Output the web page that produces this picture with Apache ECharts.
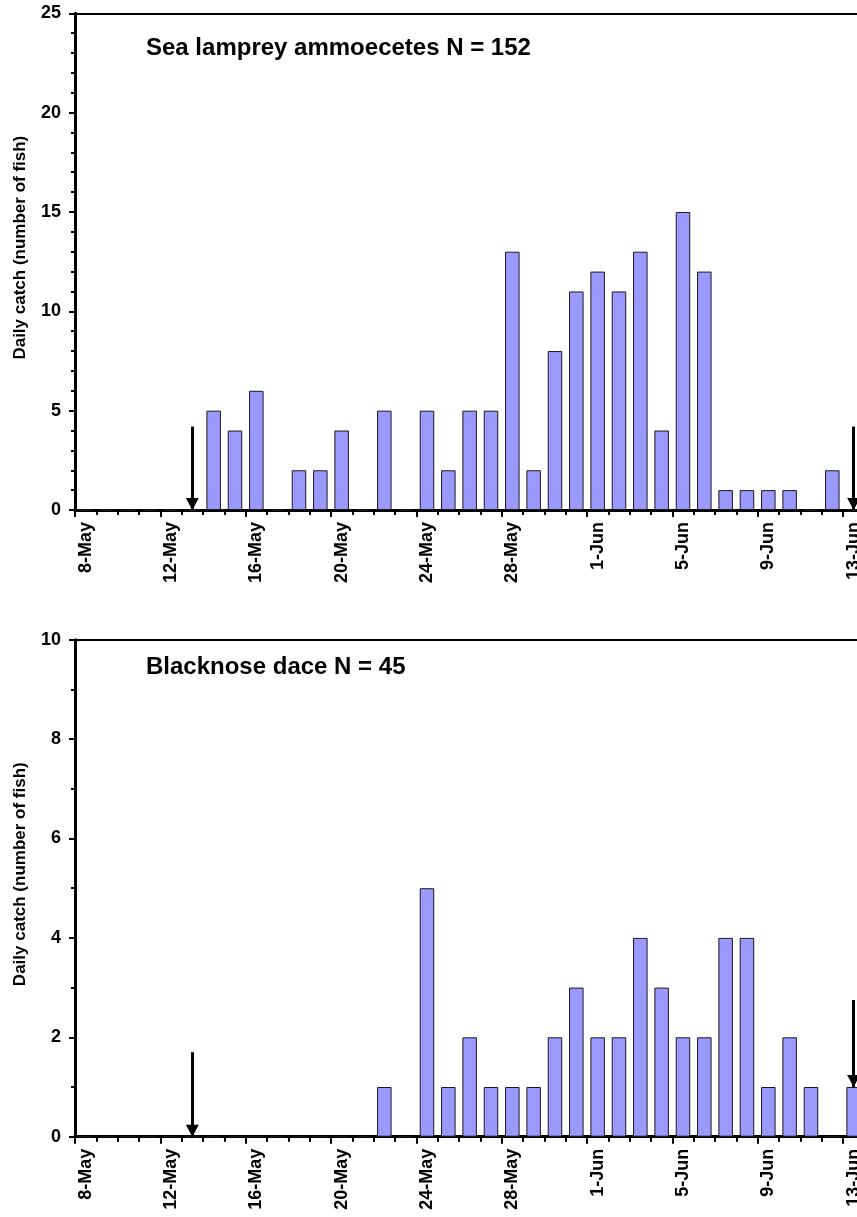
<!DOCTYPE html>
<html>
<head>
<meta charset="utf-8">
<script src="https://cdn.jsdelivr.net/npm/echarts@6/dist/echarts.min.js"></script>
<style>
  html, body { margin: 0; padding: 0; background: #ffffff; }
  #chart { width: 857px; height: 1217px; }
</style>
</head>
<body>
<div id="chart"></div>
<script>
// Sampling days, one bar per day
const days = [
  '8-May', '9-May', '10-May', '11-May', '12-May', '13-May', '14-May', '15-May',
  '16-May', '17-May', '18-May', '19-May', '20-May', '21-May', '22-May', '23-May',
  '24-May', '25-May', '26-May', '27-May', '28-May', '29-May', '30-May', '31-May',
  '1-Jun', '2-Jun', '3-Jun', '4-Jun', '5-Jun', '6-Jun', '7-Jun', '8-Jun',
  '9-Jun', '10-Jun', '11-Jun', '12-Jun', '13-Jun'
];

// Daily catch, sea lamprey ammocoetes (total 152)
const lampreyCatch = [
  0, 0, 0, 0, 0, 0, 5, 4,
  6, 0, 2, 2, 4, 0, 5, 0,
  5, 2, 5, 5, 13, 2, 8, 11,
  12, 11, 13, 4, 15, 12, 1, 1,
  1, 1, 0, 2, 0
];

// Daily catch, blacknose dace (total 45)
const daceCatch = [
  0, 0, 0, 0, 0, 0, 0, 0,
  0, 0, 0, 0, 0, 0, 1, 0,
  5, 1, 2, 1, 1, 1, 2, 3,
  2, 2, 4, 3, 2, 2, 4, 4,
  1, 2, 1, 0, 1
];

// Y-axis tick labels for each panel
const lampreyTicks = [0, 5, 10, 15, 20, 25];
const daceTicks = [0, 2, 4, 6, 8, 10];

// Arrows marking the start and end of trapping
const lampreyArrows = [
  { day: '13-May', from: 4.2, to: 0 },
  { day: '13-Jun', from: 4.2, to: 0 }
];
const daceArrows = [
  { day: '13-May', from: 1.7, to: 0 },
  { day: '13-Jun', from: 2.75, to: 1 }
];

const panelTitles = ['Sea lamprey ammoecetes N = 152', 'Blacknose dace N = 45'];
const yTitle = 'Daily catch (number of fish)';

const FONT = "'Liberation Sans', Arial, Helvetica, sans-serif";
// the plot runs a few pixels past the right edge of the page
const grids = [
  { left: 75, top: 13.3, width: 789.3, height: 496.7, outerBoundsMode: 'none', containLabel: false },
  { left: 75, top: 639.7, width: 789.3, height: 497, outerBoundsMode: 'none', containLabel: false }
];

function xAxesFor(gi) {
  return [
    // labelled axis with longer ticks every fourth day
    {
      type: 'category', gridIndex: gi, position: 'bottom', data: days,
      boundaryGap: true,
      axisLine: { show: true, lineStyle: { color: '#000', width: 3 } },
      axisTick: { show: true, interval: 3, length: 7, lineStyle: { color: '#000', width: 2 } },
      axisLabel: {
        show: true, interval: 3, rotate: 90, margin: 12,
        fontFamily: FONT, fontSize: 18, fontWeight: 'bold', color: '#000'
      },
      splitLine: { show: false }
    },
    // short ticks at every day boundary
    {
      type: 'category', gridIndex: gi, position: 'bottom', data: days,
      boundaryGap: true,
      axisLine: { show: false },
      axisTick: { show: true, interval: 0, length: 5, lineStyle: { color: '#000', width: 2 } },
      axisLabel: { show: false },
      splitLine: { show: false }
    },
    // frame line along the top of the plot
    {
      type: 'category', gridIndex: gi, position: 'top', data: days,
      axisLine: { show: true, lineStyle: { color: '#000', width: 2 } },
      axisTick: { show: false }, axisLabel: { show: false }, splitLine: { show: false }
    }
  ];
}

function yAxisFor(gi, ticks) {
  const step = ticks[1] - ticks[0];
  return {
    type: 'value', gridIndex: gi,
    min: ticks[0], max: ticks[ticks.length - 1], interval: step,
    name: yTitle, nameLocation: 'middle', nameGap: 46,
    nameTextStyle: {
      fontFamily: FONT, fontSize: 17, fontWeight: 'bold', color: '#000',
      padding: [0, 0, 0, 28]
    },
    axisLine: { show: true, lineStyle: { color: '#000', width: 3 } },
    axisTick: { show: true, length: 6, lineStyle: { color: '#000', width: 2 } },
    minorTick: { show: true, splitNumber: step, length: 4, lineStyle: { color: '#000', width: 2 } },
    axisLabel: {
      margin: 14, fontFamily: FONT, fontSize: 18, fontWeight: 'bold', color: '#000'
    },
    splitLine: { show: false },
    minorSplitLine: { show: false }
  };
}

function barSeries(gi, values, arrows) {
  return {
    type: 'bar',
    xAxisIndex: gi * 3, yAxisIndex: gi,
    data: values,
    barWidth: '68%',
    itemStyle: { color: '#9999ff', borderColor: '#1a1a1a', borderWidth: 1 },
    emphasis: { disabled: true },
    silent: true,
    markLine: {
      silent: true,
      animation: false,
      symbol: ['none', 'triangle'],
      symbolSize: [13, 12],
      symbolOffset: [[0, 0], [0, 6]],
      lineStyle: { color: '#000', width: 3, type: 'solid' },
      itemStyle: { color: '#000' },
      label: { show: false },
      emphasis: { disabled: true },
      data: arrows.map(a => [
        { coord: [a.day, a.from] },
        { coord: [a.day, a.to] }
      ])
    }
  };
}

const chart = echarts.init(document.getElementById('chart'), null, { renderer: 'canvas' });
chart.setOption({
  backgroundColor: '#ffffff',
  animation: false,
  title: [
    {
      text: panelTitles[0], left: 146, top: 36, padding: 0,
      textStyle: { fontFamily: FONT, fontSize: 24, fontWeight: 'bold', color: '#000' }
    },
    {
      text: panelTitles[1], left: 146, top: 655, padding: 0,
      textStyle: { fontFamily: FONT, fontSize: 24, fontWeight: 'bold', color: '#000' }
    }
  ],
  grid: grids,
  xAxis: xAxesFor(0).concat(xAxesFor(1)),
  yAxis: [yAxisFor(0, lampreyTicks), yAxisFor(1, daceTicks)],
  series: [
    barSeries(0, lampreyCatch, lampreyArrows),
    barSeries(1, daceCatch, daceArrows)
  ]
});
</script>
</body>
</html>
